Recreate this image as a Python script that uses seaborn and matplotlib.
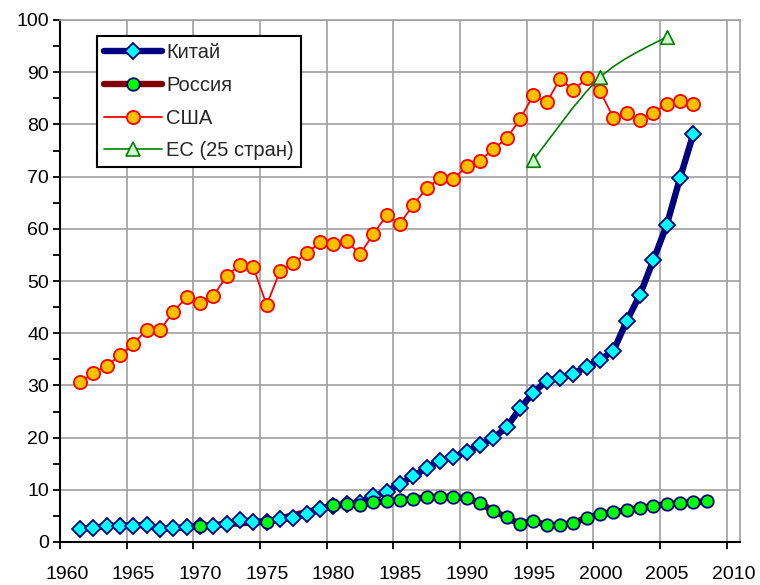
import matplotlib
matplotlib.use('Agg')
import matplotlib.pyplot as plt
import matplotlib.transforms as mtransforms
from matplotlib.lines import Line2D
from matplotlib.path import Path
from matplotlib.patches import PathPatch
import numpy as np
import pandas as pd
import seaborn as sns

china_years = list(range(1961, 2008))
china = [2.55, 2.7, 3.1, 3.1, 3.15, 3.3, 2.4, 2.7, 2.8, 3.0,
         3.1, 3.45, 4.2, 3.9, 3.9, 4.35, 4.65, 5.35, 6.4, 6.9,
         7.2, 7.5, 8.8, 9.6, 11.2, 12.6, 14.2, 15.6, 16.3, 17.3,
         18.6, 19.9, 22.0, 25.6, 28.6, 30.9, 31.5, 32.2, 33.6, 34.9,
         36.6, 42.3, 47.4, 54.0, 60.7, 69.7, 78.2]

russia_years = [1970, 1975] + list(range(1980, 2009))
russia = [3.1, 3.9, 7.0, 7.2, 7.1, 7.6, 7.85, 8.0, 8.3, 8.55, 8.7, 8.6,
          8.4, 7.4, 6.0, 4.7, 3.45, 4.1, 3.2, 3.3, 3.65, 4.65, 5.3,
          5.7, 6.1, 6.45, 6.95, 7.2, 7.45, 7.6, 7.8]

usa_years = list(range(1961, 2008))
usa = [30.7, 32.3, 33.7, 35.8, 37.9, 40.7, 40.6, 44.1, 46.9, 45.8,
       47.1, 51.0, 53.1, 52.6, 45.4, 51.9, 53.4, 55.3, 57.4, 57.0,
       57.7, 55.1, 59.0, 62.6, 61.0, 64.6, 67.8, 69.7, 69.5, 72.0,
       73.0, 75.3, 77.3, 81.0, 85.6, 84.2, 88.7, 86.6, 88.8, 86.4,
       81.3, 82.1, 80.8, 82.2, 83.9, 84.5, 84.0]

eu_years = [1995, 2000, 2005]
eu = [73.2, 89.0, 96.8]

labels = ['Китай', 'Россия', 'США', 'ЕС (25 стран)']

sns.set_theme(style='whitegrid')
plt.rcParams['font.family'] = ['Liberation Sans', 'DejaVu Sans']

# values are yearly, drawn at mid-year
china_df = pd.DataFrame({'x': np.array(china_years) + 0.5, 'y': china})
russia_df = pd.DataFrame({'x': np.array(russia_years) + 0.5, 'y': russia})
usa_df = pd.DataFrame({'x': np.array(usa_years) + 0.5, 'y': usa})
eu_df = pd.DataFrame({'x': np.array(eu_years) + 0.5, 'y': eu})

fig = plt.figure(figsize=(7.6, 5.85), dpi=100)
ax = fig.add_axes([60 / 760, 1 - 542 / 585, 680 / 760, 522 / 585])
ax.set_facecolor('white')

china_style = dict(color='#000080', linewidth=4.6, marker='D', markersize=8,
                   markerfacecolor='#00FFFF', markeredgecolor='#000080', markeredgewidth=1.3)
russia_style = dict(color='#800000', linewidth=4.6, marker='o', markersize=9,
                    markerfacecolor='#00FF00', markeredgecolor='#000080', markeredgewidth=1.3)
usa_style = dict(color='#FF0000', linewidth=1.3, marker='o', markersize=9.5,
                 markerfacecolor='#FFC000', markeredgecolor='#FF0000', markeredgewidth=1.3)
eu_style = dict(color='#008000', linewidth=1.2, marker='^', markersize=9.5,
                markerfacecolor='#CCFFCC', markeredgecolor='#008000', markeredgewidth=1.2)

# Russia line sits under China's line, its markers on top
sns.lineplot(data=russia_df, x='x', y='y', ax=ax, zorder=2,
             color=russia_style['color'], linewidth=russia_style['linewidth'])
sns.lineplot(data=china_df, x='x', y='y', ax=ax, zorder=3, **china_style)
sns.scatterplot(data=russia_df, x='x', y='y', ax=ax, zorder=4, s=80,
                color='#00FF00', edgecolor='#000080', linewidth=1.3)
sns.lineplot(data=usa_df, x='x', y='y', ax=ax, zorder=5, **usa_style)

# smoothed EU line (cardinal spline through the three points)
pts = eu_df[['x', 'y']].to_numpy()
verts = [pts[0]]
codes = [Path.MOVETO]
n = len(pts)
for i in range(n - 1):
    p0 = pts[max(i - 1, 0)]
    p1 = pts[i]
    p2 = pts[i + 1]
    p3 = pts[min(i + 2, n - 1)]
    c1 = p1 + (p2 - p0) / 6
    c2 = p2 - (p3 - p1) / 6
    verts += [c1, c2, p2]
    codes += [Path.CURVE4] * 3
ax.add_patch(PathPatch(Path(verts, codes), fill=False, edgecolor=eu_style['color'],
                       linewidth=eu_style['linewidth'], zorder=6))
sns.scatterplot(data=eu_df, x='x', y='y', ax=ax, marker='^', s=95,
                color='#CCFFCC', edgecolor='#008000', linewidth=1.2, zorder=7)

ax.set_xlim(1960, 2011)
ax.set_ylim(0, 100)
ax.set_xticks(range(1960, 2011, 5))
ax.set_yticks(range(0, 101, 10))
ax.set_yticks(range(5, 100, 10), minor=True)
ax.set_xlabel('')
ax.set_ylabel('')

ax.grid(True, which='major', color='#A0A0A0', linewidth=1.2)
ax.grid(False, which='minor')
for side in ['top', 'right']:
    ax.spines[side].set_color('#A0A0A0')
    ax.spines[side].set_linewidth(1.2)
for side in ['left', 'bottom']:
    ax.spines[side].set_color('black')
    ax.spines[side].set_linewidth(1.5)

ax.tick_params(axis='both', which='both', direction='out', length=5, width=1.3,
               color='black', labelsize=14, labelcolor='black')
ax.tick_params(axis='x', pad=12)
ax.tick_params(axis='y', pad=3)
ax.tick_params(axis='y', which='minor', left=True, length=5)
ax.tick_params(axis='x', which='major', bottom=True)
ax.tick_params(axis='y', which='major', left=True)

# Excel-style offset of the year labels
offset = mtransforms.ScaledTranslation(7 / 100, 0, fig.dpi_scale_trans)
for lbl in ax.get_xticklabels():
    lbl.set_transform(lbl.get_transform() + offset)

handles = [Line2D([], [], **china_style), Line2D([], [], **russia_style),
           Line2D([], [], **usa_style), Line2D([], [], **eu_style)]
leg = ax.legend(handles, labels, loc='upper left', bbox_to_anchor=(0.054, 0.969),
                borderaxespad=0, fontsize=14.5, frameon=True, fancybox=False,
                handlelength=2.9, handletextpad=0.2, labelspacing=0.68,
                borderpad=0.35, framealpha=1)
leg.get_frame().set_edgecolor('black')
leg.get_frame().set_linewidth(1.5)
leg.set_zorder(10)

fig.savefig('out.png', dpi=100)
